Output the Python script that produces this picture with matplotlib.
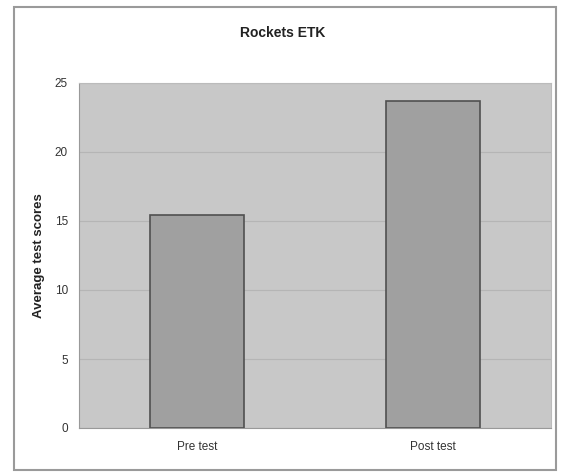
import matplotlib
matplotlib.use("Agg")
import matplotlib.pyplot as plt
from matplotlib.patches import Rectangle

plt.rcParams["font.family"] = ["Liberation Sans", "DejaVu Sans"]

categories = ["Pre test", "Post test"]
scores = [15.4, 23.7]
yticks = [0, 5, 10, 15, 20, 25]

fig = plt.figure(figsize=(5.61, 4.75), dpi=100)
fig.patch.set_facecolor("white")
fig.patches.append(Rectangle((14/561, 5/475), (556-14)/561, (468-5)/475, transform=fig.transFigure,
                             fill=False, edgecolor="#9a9a9a", linewidth=1.5))

ax = fig.add_axes([79/561, 47/475, 472/561, 345/475])
ax.set_facecolor("#c8c8c8")
x = list(range(len(categories)))
ax.bar(x, scores, width=0.40, color="#a0a0a0", edgecolor="#505050", linewidth=1.2, zorder=3)
ax.set_xlim(-0.5, 1.5)
ax.set_ylim(0, 25)
ax.set_yticks(yticks)
ax.set_xticks(x)
ax.set_xticklabels(categories, fontsize=8.5)
ax.tick_params(axis="y", labelsize=8.5, length=0, pad=8, colors="#333333")
ax.tick_params(axis="x", length=0, pad=9, colors="#333333")
ax.grid(axis="y", color="#b5b5b5", linewidth=0.8, zorder=0)
for s in ["left", "bottom"]:
    ax.spines[s].set_color("#999999")
for s in ["top", "right"]:
    ax.spines[s].set_color("#bbbbbb")
ax.set_ylabel("Average test scores", fontsize=9.5, fontweight="bold", color="#222222", labelpad=7)
fig.text(283/561, 1 - 33/475, "Rockets ETK", ha="center", va="center", fontsize=10, fontweight="bold", color="#222222")

fig.savefig("out.png", dpi=100)
